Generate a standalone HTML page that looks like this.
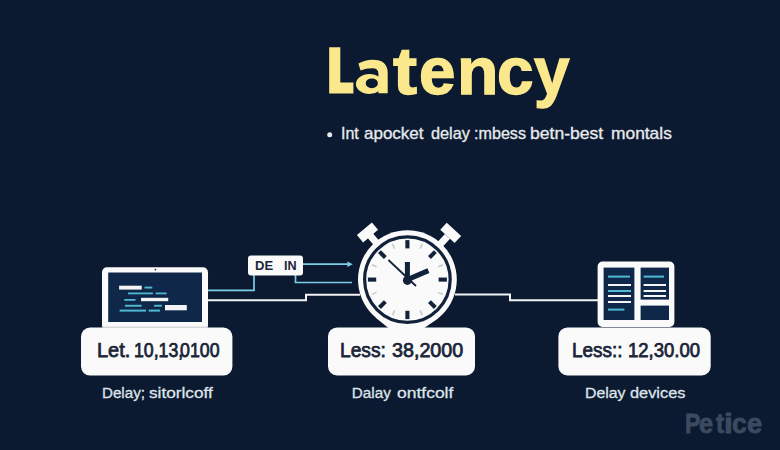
<!DOCTYPE html>
<html><head><meta charset="utf-8">
<style>
html,body{margin:0;padding:0;}
body{width:780px;height:450px;overflow:hidden;background:#0b1a30;position:relative;font-family:"Liberation Sans",sans-serif;}
.t{position:absolute;white-space:nowrap;line-height:1;transform-origin:0 0;}
.w{position:absolute;top:0;transform-origin:0 0;}
svg{position:absolute;left:0;top:0;}
</style></head><body>
<svg width="780" height="450" viewBox="0 0 780 450">
  <circle cx="329.7" cy="134.7" r="2.5" fill="#e8eaee"/>
  <path d="M329.2 47.2 H340.3 V82.6 H353.4 V93.6 H329.2 Z" fill="#fce88c"/>
  <path d="M358.4 63.6 Q365 59.8 372.5 59.8 Q387.7 59.8 387.7 73 V93.3 H378.4 V73.5 Q378.4 68.3 372.2 68.3 Q365.5 68.3 360.6 70.6 Z" fill="#fce88c"/>
  <path fill-rule="evenodd" d="M355.9 84 A13.6 10 0 1 0 383.1 84 A13.6 10 0 1 0 355.9 84 Z M365.7 83.3 A6.1 4.9 0 1 0 377.9 83.3 A6.1 4.9 0 1 0 365.7 83.3 Z" fill="#fce88c"/>
  <!-- connector lines -->
  <g fill="none" stroke-linejoin="miter">
    <path d="M207 290.3 H254 V275" stroke="#7dcde6" stroke-width="1.7"/>
    <path d="M303 264.2 H348" stroke="#7dcde6" stroke-width="1.7"/>
    <path d="M352.8 264.2 l-5.5 -2.8 v5.6 z" fill="#7dcde6" stroke="none"/>
    <path d="M295.5 275 V282.5 H352" stroke="#7dcde6" stroke-width="1.7"/>
    <path d="M207 300.3 H306 V294.7 H360" stroke="#f4f4f4" stroke-width="2"/>
    <path d="M455 294.6 H510 V300.2 H598" stroke="#f4f4f4" stroke-width="2"/>
  </g>
  <!-- laptop -->
  <rect x="102" y="267.2" width="106" height="63" rx="5" fill="#fafafa"/>
  <rect x="108.2" y="272.5" width="93.8" height="49.5" fill="#0f2849"/>
  <circle cx="155.4" cy="269.6" r="0.9" fill="#333"/>
  <g>
    <rect x="119.1" y="285.7" width="22.6" height="3.9" fill="#f4f4f4"/>
    <rect x="144.5" y="286.6" width="7.8" height="1.9" fill="#4fb9d3"/>
    <rect x="128" y="292.5" width="24.9" height="1.8" fill="#4fb9d3"/>
    <rect x="155.7" y="292.5" width="10.9" height="1.8" fill="#4fb9d3"/>
    <rect x="124.3" y="299" width="11.2" height="1.8" fill="#4fb9d3"/>
    <rect x="141" y="297.8" width="27.2" height="3.4" fill="#f4f4f4"/>
    <rect x="124.9" y="304.8" width="16.8" height="1.9" fill="#4fb9d3"/>
    <rect x="154.1" y="304.8" width="7.8" height="1.9" fill="#4fb9d3"/>
    <rect x="165" y="305" width="21.8" height="5.3" fill="#f4f4f4"/>
    <rect x="119.6" y="309.6" width="26.4" height="2" fill="#4fb9d3"/>
    <rect x="148.7" y="309.6" width="11.3" height="2" fill="#4fb9d3"/>
  </g>
  <!-- stopwatch -->
  <polygon points="375.5,317.4 388.4,328 424.3,328 438,318.3 407,290" fill="#fafafa"/>
  <g transform="translate(407.4 279.6)">
    <g transform="rotate(-40.2)">
      <rect x="-3.5" y="-58" width="7" height="14" fill="#fafafa"/>
      <rect x="-9.8" y="-66.6" width="19.6" height="9.6" fill="#fafafa"/>
    </g>
    <g transform="rotate(42.8)">
      <rect x="-3.5" y="-59" width="7" height="15" fill="#fafafa"/>
      <rect x="-9.8" y="-68.5" width="19.6" height="9.6" fill="#fafafa"/>
    </g>
    <circle r="49.4" fill="#fafafa"/>
    <circle r="42.8" fill="none" stroke="#11223a" stroke-width="3.2"/>
    <g stroke="#11223a" stroke-width="4.1">
        <line x1="0" y1="-39.5" x2="0" y2="-31.2" transform="rotate(0)"/>
        <line x1="0" y1="-39.5" x2="0" y2="-31.2" transform="rotate(45)"/>
        <line x1="0" y1="-39.5" x2="0" y2="-31.2" transform="rotate(90)"/>
        <line x1="0" y1="-39.5" x2="0" y2="-31.2" transform="rotate(135)"/>
        <line x1="0" y1="-39.5" x2="0" y2="-31.2" transform="rotate(180)"/>
        <line x1="0" y1="-39.5" x2="0" y2="-31.2" transform="rotate(225)"/>
        <line x1="0" y1="-39.5" x2="0" y2="-31.2" transform="rotate(270)"/>
        <line x1="0" y1="-39.5" x2="0" y2="-31.2" transform="rotate(315)"/>
    </g>
    <g stroke="#c6c9cf" stroke-width="1.6">
        <line x1="0" y1="-38.6" x2="0" y2="-33.4" transform="rotate(22.5)"/>
        <line x1="0" y1="-38.6" x2="0" y2="-33.4" transform="rotate(67.5)"/>
        <line x1="0" y1="-38.6" x2="0" y2="-33.4" transform="rotate(112.5)"/>
        <line x1="0" y1="-38.6" x2="0" y2="-33.4" transform="rotate(157.5)"/>
        <line x1="0" y1="-38.6" x2="0" y2="-33.4" transform="rotate(202.5)"/>
        <line x1="0" y1="-38.6" x2="0" y2="-33.4" transform="rotate(247.5)"/>
        <line x1="0" y1="-38.6" x2="0" y2="-33.4" transform="rotate(292.5)"/>
        <line x1="0" y1="-38.6" x2="0" y2="-33.4" transform="rotate(337.5)"/>
    </g>
    <line x1="-19" y1="-19.6" x2="8.6" y2="6.4" stroke="#11223a" stroke-width="1.8"/>
    <line x1="0" y1="0" x2="0" y2="-17.6" stroke="#11223a" stroke-width="5"/>
    <line x1="0" y1="0" x2="21" y2="-9" stroke="#11223a" stroke-width="5"/>
    <circle cx="0" cy="0.8" r="4.5" fill="#11223a"/>
  </g>
  <!-- device -->
  <rect x="597.6" y="261.6" width="76.8" height="65.4" rx="5" fill="#fafafa"/>
  <rect x="603.6" y="267.6" width="30.8" height="52.4" fill="#0f2849"/>
  <rect x="640.6" y="267.6" width="28.4" height="32" fill="#0f2849"/>
  <rect x="640.6" y="305.6" width="28.4" height="14.4" fill="#0f2849"/>
  <g>
    <rect x="608" y="275.6" width="22" height="2" fill="#4fb9d3"/>
    <rect x="608" y="284" width="23" height="2" fill="#f4f4f4"/>
    <rect x="608" y="290" width="23" height="2" fill="#4fb9d3"/>
    <rect x="608" y="295" width="23" height="2" fill="#f4f4f4"/>
    <rect x="608" y="301" width="23" height="2" fill="#f4f4f4"/>
    <rect x="608" y="308.6" width="16.4" height="2" fill="#4fb9d3"/>
    <rect x="643.6" y="275.6" width="20.4" height="2" fill="#4fb9d3"/>
    <rect x="643.6" y="284" width="22.4" height="2" fill="#f4f4f4"/>
    <rect x="643.6" y="290" width="22.4" height="2" fill="#f4f4f4"/>
    <rect x="643.6" y="295" width="22.4" height="2" fill="#f4f4f4"/>
  </g>
  <!-- DE IN box -->
  <rect x="248" y="255.5" width="55" height="20" rx="3" fill="#fafafa"/>
  <!-- cards -->
  <rect x="81" y="327.6" width="151.4" height="48" rx="9" fill="#fafafa"/>
  <rect x="328" y="327.4" width="147" height="48" rx="9" fill="#fafafa"/>
  <rect x="558.4" y="327.4" width="152.3" height="48" rx="9" fill="#fafafa"/>
  <rect x="102" y="326.7" width="106" height="1" fill="#c5c8ce"/>
</svg>

<div class="t" id="title" style="left:300px;top:37.73px;font-size:66px;font-weight:bold;color:#fce88c;-webkit-text-stroke:1.4px #fce88c;width:300px;height:70px;"><span style="position:absolute;left:92.68px;top:0;transform:scaleX(1.093);transform-origin:0 0;">t</span><span style="position:absolute;left:119.14px;top:0;transform:scaleX(0.992);transform-origin:0 0;">e</span><span style="position:absolute;left:157.05px;top:0;transform:scaleX(1.028);transform-origin:0 0;">n</span><span style="position:absolute;left:197.43px;top:0;transform:scaleX(0.994);transform-origin:0 0;">c</span><span style="position:absolute;left:234.18px;top:0;transform:scaleX(0.967);transform-origin:0 0;">y</span></div>
<div class="t" id="sub" style="left:0;top:126.01px;font-size:15.70px;color:#e8eaee;-webkit-text-stroke-width:0.3px;"><span class="w" style="left:340.60px;transform:scaleX(1.0222);">Int</span><span class="w" style="left:363.90px;transform:scaleX(1.0839);">apocket</span><span class="w" style="left:430.90px;transform:scaleX(1.0368);">delay</span><span class="w" style="left:473.57px;transform:scaleX(1.0280);">:mbess</span><span class="w" style="left:530.30px;transform:scaleX(1.1197);">betn-best</span><span class="w" style="left:610.80px;transform:scaleX(1.1073);">montals</span></div>
<div class="t" id="de" style="left:254.90px;top:261.0px;font-size:11.92px;transform:scaleX(1.0941);font-weight:bold;color:#1a2538;">DE</div>
<div class="t" id="in" style="left:284.00px;top:261.0px;font-size:11.92px;transform:scaleX(1.0583);font-weight:bold;color:#1a2538;">IN</div>
<div class="t" id="c1" style="left:0;top:340.91px;font-size:19.48px;font-weight:normal;-webkit-text-stroke-width:0.75px;color:#1a2538;"><span class="w" style="left:97.20px;transform:scaleX(1.0250);">Let.</span><span class="w" style="left:133.69px;transform:scaleX(0.9097);">10,13<span style="margin-right:-0.18em">,</span>0100</span></div>
<div class="t" id="c2" style="left:0;top:340.91px;font-size:19.48px;font-weight:normal;-webkit-text-stroke-width:0.75px;color:#1a2538;"><span class="w" style="left:339.70px;transform:scaleX(0.9848);">Less:</span><span class="w" style="left:391.80px;transform:scaleX(1.0127);">38,2000</span></div>
<div class="t" id="c3" style="left:0;top:341.19px;font-size:19.62px;font-weight:normal;-webkit-text-stroke-width:0.75px;color:#1a2538;"><span class="w" style="left:571.70px;transform:scaleX(0.9654);">Less::</span><span class="w" style="left:627.66px;transform:scaleX(0.9447);">12,30.00</span></div>
<div class="t" id="l1" style="left:0;top:384.88px;font-size:15.26px;color:#dfe3ea;-webkit-text-stroke-width:0.3px;"><span class="w" style="left:101.50px;transform:scaleX(0.9930);">Delay;</span><span class="w" style="left:148.80px;transform:scaleX(1.1281);">sitorlcoff</span></div>
<div class="t" id="l2" style="left:0;top:384.88px;font-size:15.26px;color:#dfe3ea;-webkit-text-stroke-width:0.3px;"><span class="w" style="left:351.80px;transform:scaleX(1.0000);">Dalay</span><span class="w" style="left:396.50px;transform:scaleX(1.1460);">ontfcolf</span></div>
<div class="t" id="l3" style="left:0;top:384.88px;font-size:15.26px;color:#dfe3ea;-webkit-text-stroke-width:0.3px;"><span class="w" style="left:584.50px;transform:scaleX(1.0359);">Delay</span><span class="w" style="left:630.30px;transform:scaleX(1.0712);">devices</span></div>
<div class="t" id="wm" style="left:0;top:409.98px;font-size:27.2px;font-weight:bold;color:#3b4a60;-webkit-text-stroke-width:0.8px;"><span class="w" style="left:684.80px;transform:scaleX(0.846);">P</span><span class="w" style="left:699.38px;transform:scaleX(0.933);">e</span><span class="w" style="left:715.76px;transform:scaleX(0.881);">t</span><span class="w" style="left:723.95px;transform:scaleX(1.169);">i</span><span class="w" style="left:732.35px;transform:scaleX(0.974);">c</span><span class="w" style="left:747.03px;transform:scaleX(1.005);">e</span></div>
</body></html>
